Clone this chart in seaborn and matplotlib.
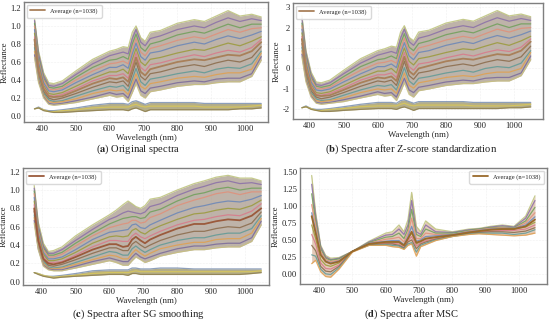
import matplotlib
matplotlib.use("Agg")
import matplotlib.pyplot as plt
import pandas as pd
import seaborn as sns

# wavelengths the curves were read at (nm)
wavelengths = [378, 390, 405, 420, 435, 460, 500, 550, 600, 620, 640, 655, 667,
               678, 692, 705, 720, 750, 800, 850, 880, 915, 950, 985, 1020, 1048]

spectra_a = [
    [1.08, .72, .48, .37, .36, .39, .50, .63, .72, .74, .77, .76, .93, 1.00, .87, .83, .93, .95, 1.03, 1.07, 1.05, 1.11, 1.17, 1.11, 1.13, 1.10],
    [1.06, .69, .45, .34, .33, .36, .46, .58, .67, .69, .71, .69, .86, .96, .82, .78, .86, .89, .96, 1.00, .98, 1.04, 1.09, 1.05, 1.08, 1.06],
    [1.03, .65, .42, .32, .31, .33, .43, .54, .62, .63, .66, .63, .80, .91, .76, .72, .80, .83, .90, .94, .92, .97, 1.02, .98, 1.02, 1.02],
    [1.00, .62, .40, .30, .29, .31, .40, .50, .58, .59, .61, .58, .74, .86, .71, .67, .75, .78, .84, .88, .86, .91, .96, .93, .97, .98],
    [.96, .59, .37, .28, .27, .29, .37, .46, .54, .54, .57, .53, .69, .81, .66, .62, .70, .72, .78, .82, .80, .85, .89, .86, .90, .94],
    [.92, .56, .34, .25, .24, .26, .33, .42, .49, .49, .52, .47, .63, .75, .60, .56, .63, .65, .70, .74, .73, .77, .81, .78, .83, .88],
    [.88, .53, .32, .23, .22, .24, .30, .39, .45, .45, .47, .42, .57, .70, .54, .50, .57, .59, .64, .68, .66, .70, .73, .71, .76, .85],
    [.80, .47, .27, .20, .18, .20, .25, .32, .38, .37, .39, .33, .47, .60, .44, .40, .47, .49, .54, .57, .55, .59, .62, .60, .65, .77],
    [.76, .44, .25, .18, .16, .17, .22, .28, .33, .32, .34, .28, .41, .53, .38, .34, .41, .43, .47, .50, .48, .52, .54, .53, .58, .72],
    [.72, .41, .23, .16, .15, .16, .19, .25, .29, .28, .29, .24, .36, .47, .33, .30, .36, .38, .42, .44, .43, .46, .48, .48, .52, .70],
    [.68, .39, .21, .14, .13, .14, .17, .21, .26, .24, .25, .20, .31, .41, .28, .25, .31, .33, .37, .39, .38, .41, .42, .42, .47, .66],
    [.65, .37, .20, .13, .12, .13, .15, .19, .23, .21, .22, .16, .26, .36, .23, .20, .27, .29, .33, .35, .35, .37, .38, .38, .44, .62],
    [.08, .10, .07, .06, .06, .07, .09, .12, .14, .14, .14, .13, .16, .17, .15, .13, .15, .15, .15, .15, .14, .14, .14, .14, .14, .14],
    [.08, .09, .07, .05, .05, .06, .07, .09, .10, .10, .10, .10, .12, .13, .11, .10, .11, .11, .11, .11, .10, .10, .10, .10, .11, .12],
    [.08, .09, .06, .05, .04, .04, .05, .06, .07, .07, .07, .06, .08, .09, .07, .05, .07, .07, .07, .07, .07, .07, .07, .08, .08, .09],
]
average_a = [.85, .50, .30, .22, .21, .22, .28, .36, .42, .41, .43, .38, .52, .65, .49, .45, .52, .55, .60, .63, .62, .65, .68, .67, .72, .82]

spectra_b = [
    [2.60, .87, -.18, -.66, -.70, -.57, -.09, .48, .87, .96, 1.09, 1.04, 1.78, 2.09, 1.52, 1.35, 1.78, 1.87, 2.22, 2.40, 2.31, 2.57, 2.83, 2.57, 2.66, 2.53],
    [2.45, .74, -.31, -.79, -.83, -.70, -.26, .26, .65, .74, .83, .74, 1.48, 1.92, 1.31, 1.13, 1.48, 1.61, 1.92, 2.09, 2.00, 2.26, 2.48, 2.31, 2.44, 2.35],
    [2.22, .57, -.44, -.87, -.92, -.83, -.40, .09, .43, .48, .61, .48, 1.22, 1.70, 1.04, .87, 1.22, 1.35, 1.65, 1.83, 1.74, 1.96, 2.18, 2.00, 2.18, 2.18],
    [2.09, .43, -.53, -.96, -1.00, -.92, -.53, -.09, .26, .30, .39, .26, .96, 1.48, .83, .65, 1.00, 1.13, 1.39, 1.57, 1.48, 1.70, 1.92, 1.78, 1.96, 2.00],
    [1.92, .30, -.66, -1.05, -1.09, -1.00, -.66, -.26, .09, .09, .22, .04, .74, 1.26, .61, .43, .78, .87, 1.13, 1.31, 1.22, 1.44, 1.61, 1.48, 1.65, 1.83],
    [1.74, .17, -.79, -1.18, -1.22, -1.14, -.83, -.44, -.13, -.13, .00, -.22, .48, 1.00, .35, .17, .48, .57, .78, .96, .91, 1.09, 1.26, 1.13, 1.35, 1.57],
    [1.57, .04, -.87, -1.27, -1.31, -1.22, -.96, -.57, -.31, -.31, -.22, -.44, .22, .78, .09, -.09, .22, .30, .52, .70, .61, .78, .91, .83, 1.04, 1.44],
    [1.22, -.22, -1.09, -1.40, -1.48, -1.40, -1.18, -.87, -.61, -.66, -.57, -.83, -.22, .35, -.35, -.53, -.22, -.13, .09, .22, .13, .30, .43, .35, .57, 1.09],
    [1.04, -.35, -1.18, -1.49, -1.57, -1.53, -1.31, -1.05, -.83, -.87, -.79, -1.05, -.48, .04, -.61, -.79, -.48, -.40, -.22, -.09, -.18, .00, .09, .04, .26, .87],
    [.87, -.48, -1.27, -1.57, -1.62, -1.57, -1.44, -1.18, -1.00, -1.05, -1.00, -1.22, -.70, -.22, -.83, -.96, -.70, -.61, -.44, -.35, -.40, -.26, -.18, -.18, .00, .78],
    [.70, -.57, -1.35, -1.66, -1.70, -1.66, -1.53, -1.35, -1.14, -1.22, -1.18, -1.40, -.92, -.48, -1.05, -1.18, -.92, -.83, -.66, -.57, -.61, -.48, -.44, -.44, -.22, .61],
    [.57, -.66, -1.40, -1.70, -1.75, -1.70, -1.62, -1.44, -1.27, -1.35, -1.31, -1.57, -1.14, -.70, -1.27, -1.40, -1.09, -1.00, -.83, -.74, -.74, -.66, -.61, -.61, -.35, .43],
    [-1.92, -1.83, -1.96, -2.00, -2.00, -1.96, -1.87, -1.75, -1.66, -1.66, -1.66, -1.70, -1.57, -1.53, -1.62, -1.70, -1.62, -1.62, -1.62, -1.62, -1.66, -1.66, -1.66, -1.66, -1.66, -1.66],
    [-1.92, -1.87, -1.96, -2.05, -2.05, -2.00, -1.96, -1.87, -1.83, -1.83, -1.83, -1.83, -1.75, -1.70, -1.79, -1.83, -1.79, -1.79, -1.79, -1.79, -1.83, -1.83, -1.83, -1.83, -1.79, -1.75],
    [-1.92, -1.87, -2.00, -2.05, -2.10, -2.10, -2.05, -2.00, -1.96, -1.96, -1.96, -2.00, -1.92, -1.88, -1.96, -2.05, -1.96, -1.96, -1.96, -1.96, -1.96, -1.96, -1.96, -1.92, -1.92, -1.88],
]
average_b = [1.44, -.09, -.96, -1.31, -1.35, -1.31, -1.05, -.70, -.44, -.48, -.39, -.61, .00, .57, -.13, -.31, .00, .13, .35, .48, .43, .57, .70, .65, .87, 1.31]

spectra_c = [
    [1.05, .65, .42, .33, .34, .38, .50, .62, .73, .78, .84, .88, .85, .82, .80, .83, .90, .92, 1.00, 1.07, 1.10, 1.14, 1.16, 1.13, 1.13, 1.10],
    [1.02, .61, .39, .31, .31, .35, .45, .57, .68, .71, .75, .77, .76, .75, .74, .76, .82, .85, .94, 1.01, 1.04, 1.08, 1.10, 1.07, 1.08, 1.06],
    [.99, .58, .37, .29, .29, .32, .42, .53, .63, .66, .69, .70, .71, .71, .69, .70, .76, .79, .88, .95, .97, 1.01, 1.03, 1.00, 1.02, 1.02],
    [.96, .56, .35, .27, .27, .30, .39, .50, .59, .61, .63, .64, .67, .67, .64, .65, .70, .74, .83, .89, .92, .96, .98, .95, .98, .98],
    [.92, .53, .32, .25, .25, .27, .35, .46, .54, .55, .56, .57, .62, .63, .59, .58, .62, .67, .75, .81, .83, .86, .88, .87, .90, .94],
    [.88, .50, .30, .23, .23, .25, .32, .42, .49, .50, .49, .50, .56, .58, .54, .52, .56, .61, .68, .74, .75, .78, .80, .79, .83, .89],
    [.84, .47, .27, .21, .21, .22, .29, .38, .45, .45, .44, .44, .50, .53, .49, .47, .50, .55, .62, .67, .68, .71, .73, .72, .77, .85],
    [.77, .42, .24, .18, .17, .19, .24, .31, .37, .37, .34, .34, .41, .44, .40, .37, .40, .45, .51, .55, .55, .58, .60, .59, .64, .76],
    [.73, .40, .22, .16, .15, .16, .21, .27, .33, .32, .29, .29, .36, .39, .35, .32, .35, .40, .45, .48, .48, .51, .53, .53, .58, .72],
    [.70, .38, .20, .15, .14, .15, .19, .24, .29, .28, .25, .25, .31, .35, .31, .28, .31, .36, .40, .43, .43, .46, .47, .47, .53, .69],
    [.67, .36, .18, .14, .13, .13, .17, .22, .26, .24, .22, .22, .27, .31, .27, .25, .27, .31, .36, .39, .39, .41, .42, .42, .48, .66],
    [.64, .35, .17, .13, .12, .12, .15, .19, .23, .21, .18, .18, .23, .27, .24, .21, .23, .28, .32, .35, .35, .37, .38, .38, .44, .62],
    [.10, .09, .07, .06, .06, .07, .09, .12, .13, .13, .13, .13, .15, .15, .14, .14, .14, .15, .15, .14, .14, .14, .14, .14, .14, .14],
    [.10, .09, .07, .06, .05, .06, .07, .09, .10, .10, .10, .10, .11, .12, .11, .11, .11, .11, .11, .11, .11, .11, .11, .11, .11, .12],
    [.10, .08, .06, .05, .04, .05, .06, .07, .08, .08, .08, .07, .09, .09, .08, .08, .08, .08, .08, .08, .08, .08, .08, .08, .09, .10],
]
average_c = [.80, .45, .25, .20, .19, .21, .27, .35, .41, .41, .38, .39, .46, .49, .45, .42, .46, .51, .58, .63, .63, .66, .68, .67, .72, .80]

spectra_d = [
    [1.45, .90, .42, .27, .23, .24, .33, .48, .60, .62, .72, .62, .80, 1.20, .70, .62, .78, .66, .62, .66, .67, .70, .72, .70, .85, 1.15],
    [1.32, .85, .40, .25, .21, .23, .33, .47, .57, .58, .66, .58, .72, 1.08, .62, .58, .72, .62, .61, .65, .66, .69, .71, .69, .82, 1.08],
    [1.18, .78, .37, .23, .20, .22, .33, .46, .54, .55, .60, .52, .66, .95, .58, .55, .66, .60, .60, .64, .66, .68, .69, .68, .78, .98],
    [1.02, .72, .33, .21, .18, .20, .33, .45, .51, .52, .54, .47, .60, .82, .52, .52, .60, .58, .58, .63, .65, .67, .68, .67, .75, .90],
    [.90, .64, .29, .19, .16, .19, .33, .45, .48, .49, .49, .43, .55, .70, .48, .50, .55, .56, .58, .62, .64, .66, .67, .67, .72, .84],
    [.72, .52, .21, .13, .11, .16, .33, .44, .46, .47, .46, .41, .52, .60, .44, .48, .51, .54, .57, .61, .63, .65, .66, .66, .69, .76],
    [.58, .44, .16, .08, .07, .13, .33, .43, .45, .45, .44, .39, .49, .55, .41, .46, .49, .52, .56, .60, .62, .63, .64, .64, .66, .72],
    [.42, .34, .11, .04, .03, .11, .33, .43, .44, .44, .42, .38, .47, .50, .37, .44, .47, .51, .56, .60, .61, .62, .62, .61, .63, .68],
    [.28, .26, .07, .00, -.01, .09, .33, .42, .43, .42, .41, .37, .44, .46, .32, .42, .45, .50, .55, .59, .60, .60, .60, .58, .60, .65],
    [.15, .20, .03, -.04, -.05, .07, .32, .42, .42, .40, .39, .36, .42, .44, .26, .40, .43, .49, .55, .58, .59, .58, .57, .56, .57, .60],
]
average_d = [.85, .60, .28, .18, .15, .18, .33, .44, .47, .47, .47, .42, .52, .62, .46, .48, .52, .54, .57, .61, .63, .65, .66, .66, .70, .80]

x_ticks = [400, 500, 600, 700, 800, 900, 1000]
y_ticks_a = [0.0, 0.2, 0.4, 0.6, 0.8, 1.0, 1.2]
y_ticks_b = [-2, -1, 0, 1, 2, 3]
y_ticks_d = [0.00, 0.25, 0.50, 0.75, 1.00, 1.25, 1.50]

curve_colors = ["#bcc27a", "#8a6fa8", "#6fa05a", "#e0907a", "#6a86b8", "#9a9a3a", "#d87a8a",
                "#8a6a4a", "#5f9a96", "#e0a050", "#7a6a9a", "#c8c080", "#7a8fb0", "#d9c85a", "#8f8050"]

W, H = 550, 322


def draw_panel(fig, box, xlim, ylim, spectra, average, avg_color, yticks, yfmt, legend_loc, caption, cap_x, cap_y, band_color):
    left, top, right, bottom = box
    ax = fig.add_axes([left / W, 1 - bottom / H, (right - left) / W, (bottom - top) / H])

    # blurred mass of the 1038 spectra behind the readable ones
    if len(spectra) == 15:
        ax.fill_between(wavelengths, spectra[0], spectra[11], color=band_color, alpha=0.75, linewidth=0)
        ax.fill_between(wavelengths, spectra[12], spectra[14], color="#a39a6a", alpha=0.8, linewidth=0)
    else:
        ax.fill_between(wavelengths, spectra[0], spectra[-1], color=band_color, alpha=0.75, linewidth=0)

    # long table, one unit per spectrum
    rows = []
    for i, curve in enumerate(spectra):
        rows.append(pd.DataFrame({"wl": wavelengths, "value": curve, "sample": i}))
    df = pd.concat(rows)

    sns.lineplot(data=df, x="wl", y="value", hue="sample", units="sample", estimator=None,
                 palette=curve_colors[:len(spectra)], linewidth=0.9, alpha=0.85, legend=False, ax=ax)
    sns.lineplot(x=wavelengths, y=average, color=avg_color, linewidth=1.3,
                 label="Average (n=1038)", ax=ax)

    ax.set_xlim(*xlim)
    ax.set_ylim(*ylim)
    ax.set_xticks(x_ticks)
    ax.set_yticks(yticks)
    ax.set_yticklabels([yfmt.format(v) for v in yticks])
    ax.set_xlabel("Wavelength (nm)", fontsize=6.3, labelpad=1)
    ax.set_ylabel("Reflectance", fontsize=6.3, labelpad=1.5)
    ax.tick_params(labelsize=6.2, length=0, pad=2)
    ax.grid(True, linestyle=":", linewidth=0.4, color="#e4e4e4")
    for spine in ax.spines.values():
        spine.set_color("#7f7f7f")
        spine.set_linewidth(1.0)
    ax.legend(loc=legend_loc, fontsize=4.7, frameon=True, edgecolor="#d5d5d5", framealpha=0.9,
              handlelength=2.3, borderpad=0.55, borderaxespad=0.4)
    fig.text(cap_x / W, 1 - cap_y / H, caption, fontsize=7.6, ha="center", va="center", color="#222222")


sns.set_style("white")
plt.rcParams["font.family"] = ["Liberation Serif", "DejaVu Serif"]
plt.rcParams["mathtext.fontset"] = "stix"

fig = plt.figure(figsize=(5.5, 3.22), dpi=100)

draw_panel(fig, (24, 2, 268, 122), (347, 1068), (-0.066, 1.266), spectra_a, average_a, "#a9805a",
           y_ticks_a, "{:.1f}", "upper left", r"($\mathbf{a}$) Original spectra", 138, 149, "#a89a8c")
draw_panel(fig, (293, 3, 543, 119), (352, 1084), (-2.47, 3.2), spectra_b, average_b, "#a9805a",
           y_ticks_b, "{:d}", "upper left", r"($\mathbf{b}$) Spectra after Z-score standardization", 411, 149, "#a89a8c")
draw_panel(fig, (23, 168, 269, 285), (345, 1071), (-0.035, 1.24), spectra_c, average_c, "#9b5a3c",
           y_ticks_a, "{:.1f}", "upper left", r"($\mathbf{c}$) Spectra after SG smoothing", 138, 314, "#a89a8c")
draw_panel(fig, (300, 168, 547, 284), (343, 1084), (-0.15, 1.56), spectra_d, average_d, "#9a6a2c",
           y_ticks_d, "{:.2f}", "upper right", r"($\mathbf{d}$) Spectra after MSC", 411, 314, "#d9b8a0")

fig.savefig("out.png", dpi=100)
plt.close(fig)
